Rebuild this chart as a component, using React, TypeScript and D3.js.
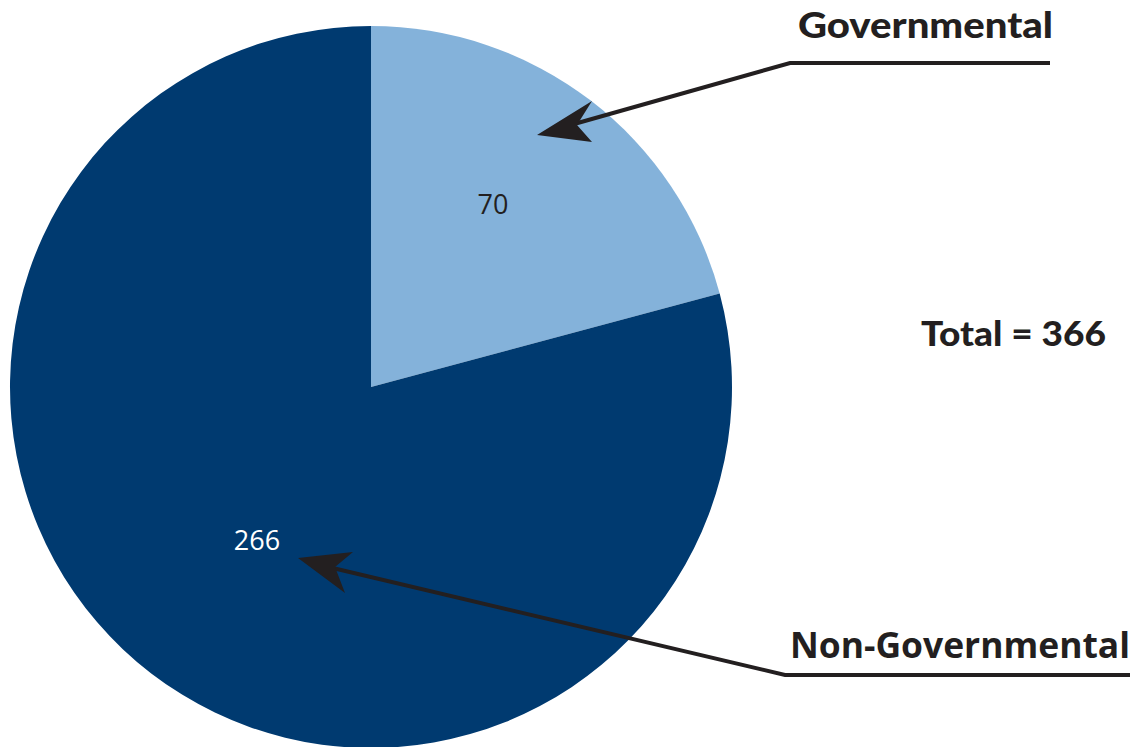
import React from "react";
import * as d3 from "d3";

const categories = ["Governmental", "Non-Governmental"];
const values = [70, 266];
const colors = ["#84B2DA", "#003A70"];
const valueLabels = ["70", "266"];
const totalLabel = "Total = 366";

export default function App() {
  const W = 1139, H = 747;
  const cx = 371, cy = 387, r = 361;
  const pie = d3.pie<number>().sort(null).value((d) => d)(values);
  const arc = d3.arc<d3.PieArcDatum<number>>().innerRadius(0).outerRadius(r);
  const labelPos = [
    [493, 207],
    [257, 543],
  ];
  const labelColors = ["#231F20", "#ffffff"];
  const ink = "#231F20";
  return (
    <svg width={W} height={H} style={{ position: "absolute", left: 0, top: 0 }}>
      <rect width={W} height={H} fill="#fff" />
      <g transform={`translate(${cx},${cy})`}>
        {pie.map((p, i) => (
          <path key={i} d={arc(p) || ""} fill={colors[i]} />
        ))}
      </g>
      {valueLabels.map((t, i) => (
        <text key={t} x={labelPos[i][0]} y={labelPos[i][1]} fill={labelColors[i]} fontFamily="'Open Sans', sans-serif" fontSize={27} textAnchor="middle" dominantBaseline="middle">
          {t}
        </text>
      ))}
      {/* Governmental callout */}
      <polyline points="1050,63 790,63 560,128" fill="none" stroke={ink} strokeWidth={4} />
      <path d="M537,135 L592,101 L577,125 L592,142 Z" fill={ink} />
      {/* Non-Governmental callout */}
      <polyline points="1130,675 785,675 320,565" fill="none" stroke={ink} strokeWidth={4} />
      <path d="M298,558 L353,552 L335,567 L345,593 Z" fill={ink} />
      <text x={1053} y={38} textAnchor="end" fontFamily="Lato, sans-serif" fontWeight={900} fontSize={36} fill={ink} textLength={255} lengthAdjust="spacingAndGlyphs">
        {categories[0]}
      </text>
      <text x={1130} y={658} textAnchor="end" fontFamily="'Open Sans', sans-serif" fontWeight={700} fontSize={36} fill={ink} textLength={340} lengthAdjust="spacingAndGlyphs">
        {categories[1]}
      </text>
      <text x={1106} y={346} textAnchor="end" fontFamily="Lato, sans-serif" fontWeight={900} fontSize={34} fill={ink} textLength={185} lengthAdjust="spacingAndGlyphs">
        {totalLabel}
      </text>
    </svg>
  );
}
